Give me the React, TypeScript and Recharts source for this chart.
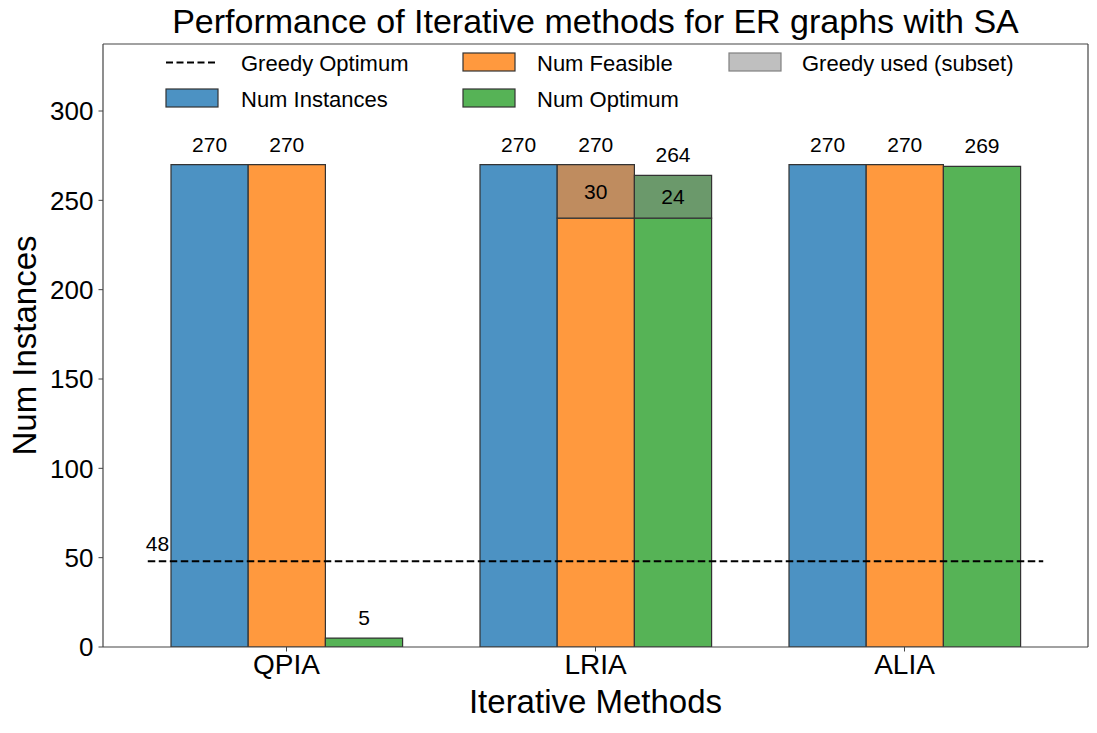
import React from 'react';
import { BarChart, Bar, XAxis, YAxis, ReferenceLine, LabelList, Label } from 'recharts';

const categories = ['QPIA', 'LRIA', 'ALIA'];
const numInstances = [270, 270, 270];
const numFeasible = [270, 270, 270];
const numOptimum = [5, 264, 269];
const greedyFeasible = [0, 30, 0];
const greedyOptimumSubset = [0, 24, 0];
const greedyOptimumValue = 48;
const yTicks = [0, 50, 100, 150, 200, 250, 300];
const seriesNames = ['Greedy Optimum', 'Num Instances', 'Num Feasible', 'Num Optimum', 'Greedy used (subset)'];
const titleText = 'Performance of Iterative methods for ER graphs with SA';
const xLabelText = 'Iterative Methods';
const yLabelText = 'Num Instances';

const data = categories.map((name, i) => ({
  name,
  pos: i,
  instances: numInstances[i],
  feasible: numFeasible[i],
  feasibleBase: numFeasible[i] - greedyFeasible[i],
  feasibleGreedy: greedyFeasible[i],
  optimum: numOptimum[i],
  optimumBase: numOptimum[i] - greedyOptimumSubset[i],
  optimumGreedy: greedyOptimumSubset[i],
}));

const FONT = '"Liberation Sans", Arial, sans-serif';
const BLUE = '#4c92c3';
const ORANGE = '#ff993e';
const GREEN = '#56b356';
const ORANGE_GREEDY = '#bf8c5f';
const GREEN_GREEDY = '#6b996b';
const GRAY = '#bfbfbf';
const EDGE = '#333333';
const FRAME = '#444444';

const W = 1097;
const H = 733;

// total label drawn above the full (base + greedy) column, using the base bar's own pixel scale
const makeTopLabel = (baseKey: string, greedyKey: string) => (props: any) => {
  const { x, y, width, height, value, index } = props;
  const row: any = data[index] || {};
  const base = row[baseKey] || 0;
  const extra = row[greedyKey] || 0;
  const perUnit = base > 0 ? height / base : 0;
  const top = y - extra * perUnit;
  return (
    <text x={x + width / 2} y={top - 13} textAnchor="middle" fontSize={21} fontFamily={FONT} fill="#000">
      {value}
    </text>
  );
};

const simpleTopLabel = (props: any) => {
  const { x, y, width, value } = props;
  return (
    <text x={x + width / 2} y={y - 13} textAnchor="middle" fontSize={21} fontFamily={FONT} fill="#000">
      {value}
    </text>
  );
};

const insideLabel = (props: any) => {
  const { x, y, width, height, value } = props;
  if (!value) return null;
  return (
    <text x={x + width / 2} y={y + height / 2} dy="0.36em" textAnchor="middle" fontSize={21} fontFamily={FONT} fill="#000">
      {value}
    </text>
  );
};

const legendItems = [
  { col: 0, row: 0, kind: 'line', color: '#000', stroke: '#000', name: seriesNames[0] },
  { col: 0, row: 1, kind: 'patch', color: BLUE, stroke: EDGE, name: seriesNames[1] },
  { col: 1, row: 0, kind: 'patch', color: ORANGE, stroke: EDGE, name: seriesNames[2] },
  { col: 1, row: 1, kind: 'patch', color: GREEN, stroke: EDGE, name: seriesNames[3] },
  { col: 2, row: 0, kind: 'patch', color: GRAY, stroke: '#808080', name: seriesNames[4] },
];
const legendPatchX = [166, 463, 729];
const legendTextX = [241, 537, 802];
const legendRowY = [53, 89];

export default function App() {
  return (
    <div style={{ position: 'absolute', left: 0, top: 0, width: W, height: H, background: '#fff' }}>
      <BarChart
        width={W}
        height={H}
        data={data}
        margin={{ top: 43, right: 8, bottom: 0, left: 0 }}
        barSize={77.2}
        barGap={0}
      >
        <XAxis
          dataKey="name"
          type="category"
          height={86}
          padding={{ left: 29, right: 29 }}
          axisLine={{ stroke: FRAME, strokeWidth: 1.2 }}
          tickLine={{ stroke: FRAME }}
          tickSize={4.5}
          tickMargin={3}
          tick={{ fontSize: 28, fontFamily: FONT, fill: '#000' }}
        >
          <Label
            content={(p: any) => {
              const vb = p.viewBox;
              return (
                <text x={vb.x + vb.width / 2} y={713} textAnchor="middle" fontSize={33} fontFamily={FONT} fill="#000">
                  {xLabelText}
                </text>
              );
            }}
          />
        </XAxis>
        <XAxis
          xAxisId="num"
          dataKey="pos"
          type="number"
          orientation="top"
          domain={[-0.595, 2.595]}
          allowDataOverflow
          height={1}
          tick={false}
          tickLine={false}
          axisLine={{ stroke: FRAME, strokeWidth: 1.2 }}
        />
        <YAxis
          type="number"
          domain={[0, 337.5]}
          ticks={yTicks}
          allowDataOverflow
          width={103}
          axisLine={{ stroke: FRAME, strokeWidth: 1.2 }}
          tickLine={{ stroke: FRAME }}
          tickSize={4.5}
          tickMargin={5}
          tick={{ fontSize: 26, fontFamily: FONT, fill: '#000' }}
        >
          <Label
            content={(p: any) => {
              const vb = p.viewBox;
              const cy = vb.y + vb.height / 2;
              return (
                <text x={36} y={cy} transform={`rotate(-90, 36, ${cy})`} textAnchor="middle" fontSize={33} fontFamily={FONT} fill="#000">
                  {yLabelText}
                </text>
              );
            }}
          />
        </YAxis>
        <YAxis
          yAxisId="right"
          orientation="right"
          type="number"
          domain={[0, 337.5]}
          width={1}
          tick={false}
          tickLine={false}
          axisLine={{ stroke: FRAME, strokeWidth: 1.2 }}
        />
        <Bar dataKey="instances" stackId="i" fill={BLUE} stroke={EDGE} strokeWidth={1.2} isAnimationActive={false}>
          <LabelList dataKey="instances" content={simpleTopLabel} />
        </Bar>
        <Bar dataKey="feasibleBase" stackId="f" fill={ORANGE} stroke={EDGE} strokeWidth={1.2} isAnimationActive={false}>
          <LabelList dataKey="feasible" content={makeTopLabel('feasibleBase', 'feasibleGreedy')} />
        </Bar>
        <Bar dataKey="feasibleGreedy" stackId="f" fill={ORANGE_GREEDY} stroke={EDGE} strokeWidth={1.2} isAnimationActive={false}>
          <LabelList dataKey="feasibleGreedy" content={insideLabel} />
        </Bar>
        <Bar dataKey="optimumBase" stackId="o" fill={GREEN} stroke={EDGE} strokeWidth={1.2} isAnimationActive={false}>
          <LabelList dataKey="optimum" content={makeTopLabel('optimumBase', 'optimumGreedy')} />
        </Bar>
        <Bar dataKey="optimumGreedy" stackId="o" fill={GREEN_GREEDY} stroke={EDGE} strokeWidth={1.2} isAnimationActive={false}>
          <LabelList dataKey="optimumGreedy" content={insideLabel} />
        </Bar>
        <ReferenceLine
          xAxisId="num"
          segment={[{ x: -0.45, y: greedyOptimumValue }, { x: 2.45, y: greedyOptimumValue }]}
          stroke="#000"
          strokeWidth={2}
          strokeDasharray="7.5 3.5"
          ifOverflow="visible"
          label={(p: any) => {
            const vb = p.viewBox || {};
            return (
              <text x={(vb.x ?? 147) - 2} y={(vb.y ?? 561) - 10} textAnchor="start" fontSize={21} fontFamily={FONT} fill="#000">
                {greedyOptimumValue}
              </text>
            );
          }}
        />
      </BarChart>
      <svg width={W} height={130} style={{ position: 'absolute', left: 0, top: 0, pointerEvents: 'none' }}>
        <text x={595.5} y={33} textAnchor="middle" fontSize={34} fontFamily={FONT} fill="#000">
          {titleText}
        </text>
        {legendItems.map((it) => {
          const px = legendPatchX[it.col];
          const py = legendRowY[it.row];
          return (
            <g key={it.name}>
              {it.kind === 'line' ? (
                <line x1={px} x2={px + 52} y1={py + 9.5} y2={py + 9.5} stroke="#000" strokeWidth={2} strokeDasharray="7 3.5" />
              ) : (
                <rect x={px} y={py} width={52} height={18} fill={it.color} stroke={it.stroke} strokeWidth={1.2} />
              )}
              <text x={legendTextX[it.col]} y={py + 18} fontSize={22} fontFamily={FONT} fill="#000">
                {it.name}
              </text>
            </g>
          );
        })}
      </svg>
    </div>
  );
}
